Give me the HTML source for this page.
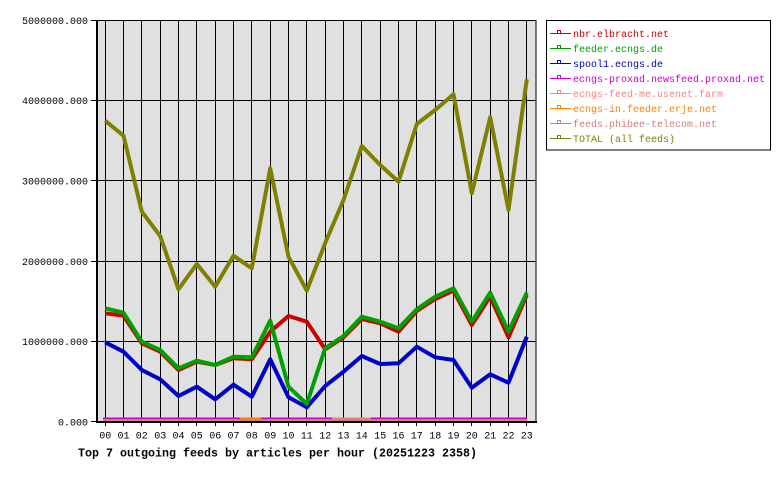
<!DOCTYPE html>
<html>
<head>
<meta charset="utf-8">
<style>
html,body{margin:0;padding:0;background:#fff;}
svg{display:block;}
text{font-family:"Liberation Mono","DejaVu Sans Mono",monospace;}
</style>
</head>
<body>
<svg width="780" height="480" viewBox="0 0 780 480" xmlns="http://www.w3.org/2000/svg" shape-rendering="crispEdges">
<rect x="0" y="0" width="780" height="480" fill="#fff"/>
<!-- plot background -->
<rect x="96" y="20" width="440" height="402" fill="#e0e0e0"/>
<!-- horizontal grid + y ticks -->
<g stroke="#000" stroke-width="1">
<line x1="91" y1="20.5" x2="536" y2="20.5"/>
<line x1="91" y1="100.5" x2="536" y2="100.5"/>
<line x1="91" y1="180.5" x2="536" y2="180.5"/>
<line x1="91" y1="261.5" x2="536" y2="261.5"/>
<line x1="91" y1="341.5" x2="536" y2="341.5"/>
<line x1="91" y1="421.5" x2="96" y2="421.5"/>
</g>
<!-- vertical grid + x ticks -->
<g stroke="#000" stroke-width="1">
<line x1="105.5" y1="20" x2="105.5" y2="426"/>
<line x1="123.5" y1="20" x2="123.5" y2="426"/>
<line x1="141.5" y1="20" x2="141.5" y2="426"/>
<line x1="160.5" y1="20" x2="160.5" y2="426"/>
<line x1="178.5" y1="20" x2="178.5" y2="426"/>
<line x1="196.5" y1="20" x2="196.5" y2="426"/>
<line x1="215.5" y1="20" x2="215.5" y2="426"/>
<line x1="233.5" y1="20" x2="233.5" y2="426"/>
<line x1="251.5" y1="20" x2="251.5" y2="426"/>
<line x1="270.5" y1="20" x2="270.5" y2="426"/>
<line x1="288.5" y1="20" x2="288.5" y2="426"/>
<line x1="306.5" y1="20" x2="306.5" y2="426"/>
<line x1="325.5" y1="20" x2="325.5" y2="426"/>
<line x1="343.5" y1="20" x2="343.5" y2="426"/>
<line x1="361.5" y1="20" x2="361.5" y2="426"/>
<line x1="380.5" y1="20" x2="380.5" y2="426"/>
<line x1="398.5" y1="20" x2="398.5" y2="426"/>
<line x1="416.5" y1="20" x2="416.5" y2="426"/>
<line x1="435.5" y1="20" x2="435.5" y2="426"/>
<line x1="453.5" y1="20" x2="453.5" y2="426"/>
<line x1="471.5" y1="20" x2="471.5" y2="426"/>
<line x1="490.5" y1="20" x2="490.5" y2="426"/>
<line x1="508.5" y1="20" x2="508.5" y2="426"/>
<line x1="526.5" y1="20" x2="526.5" y2="426"/>
</g>
<!-- right border -->
<line x1="536" y1="20" x2="536" y2="422" stroke="#000" stroke-width="1"/>

<!-- bottom zero-value series -->
<rect x="103" y="418.7" width="424" height="3.3" fill="#c88080"/>
<rect x="103" y="417.7" width="424" height="1.3" fill="#cc00cc"/>
<rect x="240" y="417.7" width="21" height="1.6" fill="#ff8000"/>
<rect x="332" y="417.7" width="39" height="1.3" fill="#e88080"/>

<g fill="none" stroke-width="4" stroke-linejoin="round" stroke-linecap="butt" shape-rendering="auto">
<!-- blue -->
<polyline stroke="#0000cc" points="105.2,342.3 123.5,351.7 141.8,370 160.2,379.3 178.5,396 196.8,386.7 215.2,399.3 233.5,384.7 251.8,396.7 270.2,359.3 288.5,397.3 306.8,407.3 325.2,386 343.5,371.7 361.8,356 380.2,364 398.5,363.3 416.8,346.7 435.2,357.3 453.5,360 471.8,387.7 490.2,374.3 508.5,382.7 526.8,336.7"/>
<!-- red -->
<polyline stroke="#cc0000" points="105.2,313.3 123.5,315.7 141.8,343.3 160.2,351.7 178.5,370 196.8,361.7 215.2,365 233.5,358.3 251.8,359.3 270.2,331.7 288.5,316 306.8,321.7 325.2,349.3 343.5,337.3 361.8,319 380.2,323.3 398.5,331.7 416.8,311 435.2,299 453.5,290.7 471.8,325 490.2,296.7 508.5,337.3 526.8,295"/>
<!-- green -->
<polyline stroke="#00a000" points="105.2,308.3 123.5,312.7 141.8,341.7 160.2,350 178.5,368.3 196.8,360.7 215.2,365 233.5,356.7 251.8,357.3 270.2,320.7 288.5,386.7 306.8,404 325.2,348.3 343.5,336 361.8,316.7 380.2,321.7 398.5,328.3 416.8,309.3 435.2,296.7 453.5,288.3 471.8,321.7 490.2,292.7 508.5,331.7 526.8,292.7"/>
<!-- total -->
<polyline stroke="#808000" points="105.2,120.7 123.5,135.7 141.8,211.7 160.2,236 178.5,289.3 196.8,264 215.2,286.7 233.5,255.7 251.8,268.3 270.2,168.3 288.5,256.7 306.8,290.7 325.2,243 343.5,200 361.8,146 380.2,165 398.5,181.7 416.8,124 435.2,110 453.5,94.3 471.8,193.3 490.2,117.3 508.5,210 526.8,79.3"/>
</g>

<!-- axes -->
<rect x="96" y="20" width="2" height="403" fill="#000"/>
<rect x="96" y="421" width="441" height="2" fill="#000"/>

<!-- y labels -->
<g font-size="10" fill="#000" text-anchor="end">
<text x="88" y="24">5000000.000</text>
<text x="88" y="104">4000000.000</text>
<text x="88" y="184.5">3000000.000</text>
<text x="88" y="265">2000000.000</text>
<text x="88" y="345">1000000.000</text>
<text x="88" y="425.5">0.000</text>
</g>
<!-- x labels -->
<g font-size="10" fill="#000" text-anchor="middle">
<text x="105.2" y="438.5">00</text>
<text x="123.5" y="438.5">01</text>
<text x="141.8" y="438.5">02</text>
<text x="160.2" y="438.5">03</text>
<text x="178.5" y="438.5">04</text>
<text x="196.8" y="438.5">05</text>
<text x="215.2" y="438.5">06</text>
<text x="233.5" y="438.5">07</text>
<text x="251.8" y="438.5">08</text>
<text x="270.2" y="438.5">09</text>
<text x="288.5" y="438.5">10</text>
<text x="306.8" y="438.5">11</text>
<text x="325.2" y="438.5">12</text>
<text x="343.5" y="438.5">13</text>
<text x="361.8" y="438.5">14</text>
<text x="380.2" y="438.5">15</text>
<text x="398.5" y="438.5">16</text>
<text x="416.8" y="438.5">17</text>
<text x="435.2" y="438.5">18</text>
<text x="453.5" y="438.5">19</text>
<text x="471.8" y="438.5">20</text>
<text x="490.2" y="438.5">21</text>
<text x="508.5" y="438.5">22</text>
<text x="526.8" y="438.5">23</text>
</g>
<!-- title -->
<text x="78" y="456.5" font-size="11.67" font-weight="bold" fill="#000" textLength="399" lengthAdjust="spacing">Top 7 outgoing feeds by articles per hour (20251223 2358)</text>

<!-- legend -->
<rect x="546.5" y="20.5" width="224" height="129.5" fill="#fff" stroke="#000" stroke-width="1"/>
<g stroke-width="1" fill="none">
<line x1="550" y1="33.5" x2="571" y2="33.5" stroke="#cc0000"/><rect x="557.5" y="30.5" width="3" height="3" stroke="#cc0000"/>
<line x1="550" y1="48.5" x2="571" y2="48.5" stroke="#00a000"/><rect x="557.5" y="45.5" width="3" height="3" stroke="#00a000"/>
<line x1="550" y1="63.5" x2="571" y2="63.5" stroke="#0000cc"/><rect x="557.5" y="60.5" width="3" height="3" stroke="#0000cc"/>
<line x1="550" y1="78.5" x2="571" y2="78.5" stroke="#cc00cc"/><rect x="557.5" y="75.5" width="3" height="3" stroke="#cc00cc"/>
<line x1="550" y1="93.5" x2="571" y2="93.5" stroke="#ff8080"/><rect x="557.5" y="90.5" width="3" height="3" stroke="#ff8080"/>
<line x1="550" y1="108.5" x2="571" y2="108.5" stroke="#ff8000"/><rect x="557.5" y="105.5" width="3" height="3" stroke="#ff8000"/>
<line x1="550" y1="123.5" x2="571" y2="123.5" stroke="#cc8080"/><rect x="557.5" y="120.5" width="3" height="3" stroke="#cc8080"/>
<line x1="550" y1="138.5" x2="571" y2="138.5" stroke="#808000"/><rect x="557.5" y="135.5" width="3" height="3" stroke="#808000"/>
</g>
<g font-size="10">
<text x="573" y="37" fill="#cc0000">nbr.elbracht.net</text>
<text x="573" y="52" fill="#00a000">feeder.ecngs.de</text>
<text x="573" y="67" fill="#0000cc">spool1.ecngs.de</text>
<text x="573" y="82" fill="#cc00cc">ecngs-proxad.newsfeed.proxad.net</text>
<text x="573" y="97" fill="#ff8080">ecngs-feed-me.usenet.farm</text>
<text x="573" y="112" fill="#ff8000">ecngs-in.feeder.erje.net</text>
<text x="573" y="127" fill="#cc8080">feeds.phibee-telecom.net</text>
<text x="573" y="142" fill="#808000">TOTAL (all feeds)</text>
</g>
</svg>
</body>
</html>
